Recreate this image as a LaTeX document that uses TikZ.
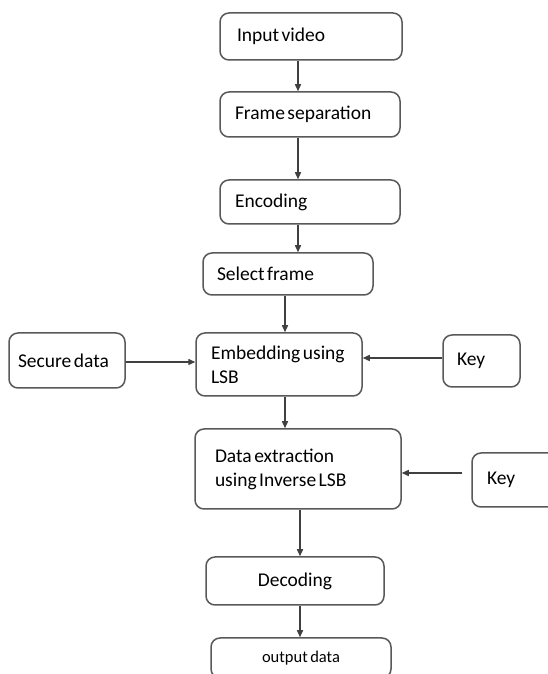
\documentclass[tikz,border=0pt]{standalone}
\usepackage{fontspec}
\setmainfont{Carlito}
\usetikzlibrary{arrows.meta}
\hyphenpenalty=10000
\newcommand\tightsp{\spaceskip=2.5pt\relax}
\begin{document}
\begin{tikzpicture}[x=1pt,y=1pt,
  box/.style={draw=black!65, line width=1.5pt, rounded corners=9pt, align=left,
    inner ysep=0pt, font=\fontsize{19.5}{24}\selectfont, execute at begin node=\tightsp},
  arr/.style={draw=black!75, line width=1.4pt, -{Triangle[length=7pt,width=6pt]}}]
\useasboundingbox (0,0) rectangle (548,674);
\clip (0,0) rectangle (548,674);
\fill[white] (0,0) rectangle (548,674);
% boxes: center (x, 674-y)
\node[box, inner xsep=17pt, text width=148pt, minimum height=47pt] (inp) at (311,637.5) {Input video};
\node[box, inner xsep=15pt, text width=150pt, minimum height=45pt] (frm) at (310,559.5) {Frame separation};
\node[box, inner xsep=15pt, text width=150pt, minimum height=44pt] (enc) at (310,472) {Encoding};
\node[box, inner xsep=14pt, text width=142pt, minimum height=42pt] (sel) at (288,400) {Select frame};
\node[box, inner xsep=15pt, text width=136pt, minimum height=63pt] (emb) at (279,309.5) {Embedding using\\LSB};
\node[box, inner xsep=9pt, text width=98pt, minimum height=55pt] (sec) at (67,313.5) {Secure data};
\node[box, inner xsep=14pt, text width=49pt, minimum height=52pt] (key1) at (481.5,313) {Key};
\node[box, inner xsep=20pt, text width=166pt, minimum height=80pt] (ext) at (298,205) {Data extraction\\using Inverse LSB};
\node[box, inner xsep=15pt, text width=63pt, minimum height=54pt] (key2) at (518.5,194) {Key};
\node[box, align=center, inner xsep=0pt, text width=178pt, minimum height=48pt] (dec) at (295,93) {Decoding};
\node[box, align=center, inner xsep=0pt, text width=180pt, minimum height=40pt, font=\fontsize{16.5}{20}\selectfont] (out) at (301,16) {output data};
% connectors
\draw[arr] ([xshift=-13pt]inp.south) -- ([xshift=-13pt]inp.south |- frm.north);
\draw[arr] ([xshift=-12pt]frm.south) -- ([xshift=-12pt]frm.south |- enc.north);
\draw[arr] ([xshift=-12pt]enc.south) -- ([xshift=-12pt]enc.south |- sel.north);
\draw[arr] ([xshift=-3pt]sel.south) -- ([xshift=-3pt]sel.south |- emb.north);
\draw[arr] ([xshift=6pt]emb.south) -- ([xshift=6pt]emb.south |- ext.north);
\draw[arr] ([xshift=2pt]ext.south) -- ([xshift=2pt]ext.south |- dec.north);
\draw[arr] ([xshift=5pt]dec.south) -- ([xshift=5pt]dec.south |- out.north);
\draw[arr] ([yshift=-1.5pt]sec.east) -- ([yshift=-1.5pt]sec.east -| emb.west);
\draw[arr] ([yshift=3pt]key1.west) -- ([yshift=3pt]key1.west -| emb.east);
\draw[arr] ([xshift=-9pt,yshift=7pt]key2.west) -- ([yshift=7pt]key2.west -| ext.east);
\end{tikzpicture}
\end{document}
